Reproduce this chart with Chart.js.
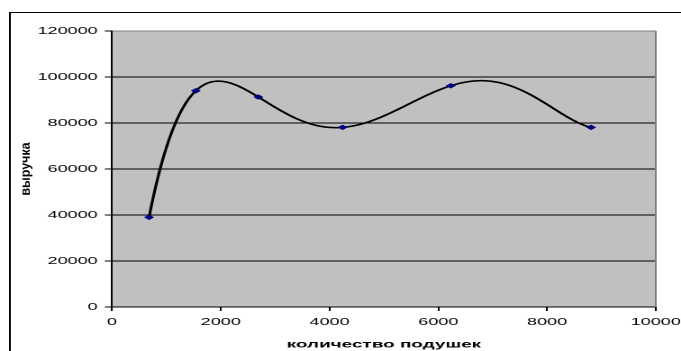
<!DOCTYPE html>
<html>
<head>
<meta charset="utf-8">
<script src="https://cdn.jsdelivr.net/npm/chart.js@4/dist/chart.umd.min.js"></script>
<style>
  html, body { margin: 0; padding: 0; background: #fff; overflow: hidden; }
  /* the picture is stretched sideways, so draw narrow and widen it */
  #wrap { width: 378px; height: 351px; transform: scaleX(1.8016); transform-origin: 0 0; }
</style>
</head>
<body>
<div id="wrap"><canvas id="chart"></canvas></div>
<script>
// data
const pillows = [680, 1540, 2690, 4240, 6230, 8810];
const revenue = [39000, 94000, 91300, 78100, 96200, 78100];

const xTicks = [0, 2000, 4000, 6000, 8000, 10000];
const yTicks = [0, 20000, 40000, 60000, 80000, 100000, 120000];

const xTitle = 'количество подушек';
const yTitle = 'выручка';

const TREND_ORDER = 5;   // polynomial trendline, like Excel's
const STRETCH = 1.8016;

Chart.defaults.font.family = '"Liberation Sans", Arial, sans-serif';
Chart.defaults.color = '#000';

// least squares polynomial fit (x in thousands to keep numbers sane)
function polyFit(xs, ys, order) {
    const m = order + 1;
    const A = [];
    for (let r = 0; r < m; r++) {
        const row = [];
        for (let c = 0; c < m; c++) {
            let s = 0;
            xs.forEach(x => { s += Math.pow(x / 1000, r + c); });
            row.push(s);
        }
        let b = 0;
        xs.forEach((x, i) => { b += ys[i] * Math.pow(x / 1000, r); });
        row.push(b);
        A.push(row);
    }
    // gauss elimination with pivoting
    for (let c = 0; c < m; c++) {
        let p = c;
        for (let r = c + 1; r < m; r++) if (Math.abs(A[r][c]) > Math.abs(A[p][c])) p = r;
        [A[c], A[p]] = [A[p], A[c]];
        for (let r = 0; r < m; r++) {
            if (r === c) continue;
            const f = A[r][c] / A[c][c];
            for (let k = c; k <= m; k++) A[r][k] -= f * A[c][k];
        }
    }
    return A.map((row, i) => row[m] / row[i]);
}

const coef = polyFit(pillows, revenue, TREND_ORDER);
const trendAt = x => coef.reduce((s, a, i) => s + a * Math.pow(x / 1000, i), 0);

// gray plot area, outer frame, trendline and the upright y title
const frame = {
    id: 'frame',
    beforeDraw(chart) {
        const ctx = chart.ctx;
        const a = chart.chartArea;
        ctx.save();
        ctx.fillStyle = '#c0c0c0';
        ctx.fillRect(a.left, a.top, a.right - a.left, a.bottom - a.top);
        ctx.strokeStyle = '#000';
        ctx.lineWidth = 1;
        ctx.strokeRect(5.5, 12.5, chart.width + 20, chart.height + 20);
        ctx.restore();
    },
    beforeDatasetsDraw(chart) {
        const ctx = chart.ctx;
        const xs = chart.scales.x, ys = chart.scales.y;
        const x0 = xs.getPixelForValue(pillows[0]);
        const x1 = xs.getPixelForValue(pillows[pillows.length - 1]);
        ctx.save();
        ctx.strokeStyle = '#000';
        ctx.lineWidth = 1.6;
        ctx.lineJoin = 'round';
        ctx.beginPath();
        for (let px = x0; px <= x1 + 0.01; px += 0.5) {
            const v = trendAt(xs.getValueForPixel(Math.min(px, x1)));
            const py = ys.getPixelForValue(v);
            if (px === x0) ctx.moveTo(px, py); else ctx.lineTo(px, py);
        }
        ctx.stroke();
        ctx.restore();
    },
    afterDraw(chart) {
        const ctx = chart.ctx;
        const a = chart.chartArea;
        ctx.save();
        ctx.strokeStyle = '#808080';
        ctx.lineWidth = 1;
        ctx.beginPath();
        ctx.moveTo(a.right, a.top);
        ctx.lineTo(a.right, a.bottom);
        ctx.stroke();
        // y title is not widened in the picture
        ctx.translate(14.4, (a.top + a.bottom) / 2);
        ctx.scale(1 / STRETCH, 1);
        ctx.rotate(-Math.PI / 2);
        ctx.font = 'bold 12.5px "Liberation Sans", Arial, sans-serif';
        ctx.fillStyle = '#000';
        ctx.textAlign = 'center';
        ctx.textBaseline = 'middle';
        ctx.fillText(yTitle, 0, 0);
        ctx.restore();
    }
};

new Chart(document.getElementById('chart'), {
    type: 'scatter',
    data: {
        datasets: [{
            data: pillows.map((x, i) => ({x: x, y: revenue[i]})),
            showLine: false,
            pointStyle: 'rectRot',
            pointRadius: 2.8,
            pointBackgroundColor: '#000080',
            pointBorderColor: '#000080',
            pointBorderWidth: 0
        }]
    },
    options: {
        responsive: true,
        maintainAspectRatio: false,
        animation: false,
        devicePixelRatio: 2,
        layout: { padding: { left: 0, right: 14, top: 31, bottom: 0 } },
        plugins: { legend: { display: false }, tooltip: { enabled: false } },
        scales: {
            x: {
                type: 'linear',
                min: 0,
                max: 10000,
                afterBuildTicks: s => { s.ticks = xTicks.map(v => ({value: v})); },
                afterFit: s => { s.height = 44; s.paddingRight = 0; s.paddingLeft = 0; },
                grid: { drawOnChartArea: false, tickLength: 4, tickColor: '#000' },
                border: { color: '#000', width: 1 },
                ticks: { font: { size: 10 }, padding: 5, maxRotation: 0, callback: v => String(v) },
                title: { display: true, text: xTitle, font: { size: 10.5, weight: 'bold' }, padding: 0 }
            },
            y: {
                min: 0,
                max: 120000,
                afterBuildTicks: s => { s.ticks = yTicks.map(v => ({value: v})); },
                afterFit: s => { s.width = 62.2; },
                grid: {
                    color: c => c.tick && c.tick.value === 120000 ? '#808080' : '#000',
                    tickLength: 4,
                    tickColor: '#000'
                },
                border: { color: '#000', width: 1 },
                ticks: { font: { size: 10 }, padding: 4, callback: v => String(v) }
            }
        }
    },
    plugins: [frame]
});
</script>
</body>
</html>
